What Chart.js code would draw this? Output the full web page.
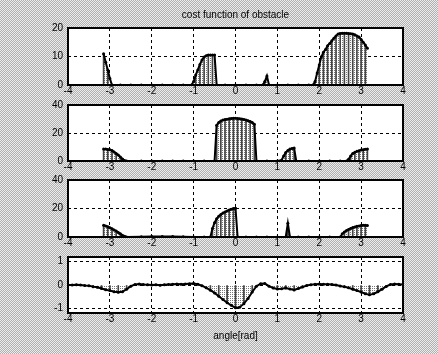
<!DOCTYPE html>
<html>
<head>
<meta charset="utf-8">
<script src="https://cdn.jsdelivr.net/npm/chart.js@4"></script>
<style>
body {
    margin: 0;
    width: 438px;
    height: 354px;
    overflow: hidden;
    background-color: #cacaca;
    background-image: repeating-conic-gradient(#b0b0b0 0 25%, #ececec 0 50%);
    background-size: 2px 2px;
}
canvas { position: absolute; left: 0; top: 0; }
</style>
</head>
<body>
<canvas id="p1" width="438" height="354"></canvas>
<canvas id="p2" width="438" height="354"></canvas>
<canvas id="p3" width="438" height="354"></canvas>
<canvas id="p4" width="438" height="354"></canvas>
<script>
// valores
const angle1 = [-3.15,-3.1,-3.05,-3.0,-2.95,-2.75,-2.5,-2.25,-2,-1.75,-1.5,-1.25,-1.05,
    -1.0,-0.95,-0.9,-0.85,-0.8,-0.75,-0.7,-0.65,-0.6,-0.55,-0.5,-0.45,
    -0.25,0,0.25,0.5,0.65,0.7,0.75,0.8,1.0,1.25,1.5,1.75,
    1.85,1.9,1.95,2.0,2.05,2.1,2.15,2.2,2.25,2.3,2.35,2.4,2.45,2.5,2.55,2.6,2.65,2.7,2.75,2.8,2.85,2.9,2.95,3.0,3.05,3.1,3.15];
const cost1 = [11,8,5.3,2.3,0,0,0,0,0,0,0,0,0,
    1.2,3.5,5.3,7.2,8.8,9.8,10.3,10.5,10.5,10.5,10.5,0,
    0,0,0,0,0,1.2,3.2,0,0,0,0,0,
    0,1.2,4.2,7,9.9,11.5,12.5,13.8,14.6,15.5,16.4,17.2,17.9,18.1,18.2,18.2,18.2,18.1,18.0,17.9,17.6,17.2,16.8,16.0,15.0,14.0,12.9];

const angle2 = [-3.15,-3.1,-3.05,-3.0,-2.95,-2.9,-2.85,-2.8,-2.75,-2.7,-2.65,-2.6,
    -2.25,-2,-1.75,-1.5,-1.25,-1,-0.75,
    -0.5,-0.45,-0.4,-0.35,-0.3,-0.25,-0.2,-0.15,-0.1,-0.05,0,0.05,0.1,0.15,0.2,0.25,0.3,0.35,0.4,0.45,0.5,
    0.75,1.0,1.1,1.15,1.2,1.25,1.3,1.35,1.4,1.45,
    1.75,2.0,2.25,2.5,2.65,2.7,2.75,2.8,2.85,2.9,2.95,3.0,3.05,3.1,3.15];
const cost2 = [8.5,8.5,8.3,8.0,7.5,6.5,5.3,4.2,2.8,1.5,0.3,0,
    0,0,0,0,0,0,0,
    0,25.5,27.5,28.6,29.2,29.6,29.9,30.2,30.4,30.5,30.5,30.4,30.2,30,29.7,29.3,28.8,28.2,27.5,26.2,0,
    0,0,0.5,3.5,6,7.5,8.5,9,9.2,0,
    0,0,0,0,0,1.2,3.5,5.3,6.2,6.9,7.4,7.8,8.1,8.4,8.5];

const angle3 = [-3.15,-3.1,-3.05,-3.0,-2.95,-2.9,-2.85,-2.8,-2.75,-2.7,-2.65,-2.6,
    -2.25,-2,-1.75,-1.5,-1.25,-1,-0.75,
    -0.6,-0.55,-0.5,-0.45,-0.4,-0.35,-0.3,-0.25,-0.2,-0.15,-0.1,-0.05,0,0.05,
    0.25,0.5,0.75,1.0,1.2,1.25,1.3,1.5,1.75,2.0,2.25,
    2.5,2.55,2.6,2.65,2.7,2.75,2.8,2.85,2.9,2.95,3.0,3.05,3.1,3.15];
const cost3 = [8.2,7.8,7.2,6.5,5.8,5,4.2,3.2,2.2,1.2,0.5,0,
    0.2,0.3,0.3,0.4,0.2,0,0,
    0,6,10,12.8,14.6,15.8,16.8,17.6,18.3,19,19.5,20,20.2,0,
    0,0,0,0,0,9.6,0,0,0,0,0,
    0,2.2,3.5,4.5,5.3,6,6.6,7.1,7.5,7.8,8.0,8.2,8.2,8.0];

const angle4 = [-4,-3.9,-3.8,-3.7,-3.6,-3.5,-3.4,-3.3,-3.2,-3.1,-3,-2.9,-2.8,-2.7,-2.6,-2.5,-2.4,-2.3,-2.2,-2.1,
    -2,-1.9,-1.8,-1.7,-1.6,-1.5,-1.4,-1.3,-1.2,-1.1,-1,-0.9,-0.8,-0.7,-0.6,-0.5,-0.4,-0.3,-0.2,-0.1,
    0,0.1,0.2,0.3,0.4,0.5,0.6,0.7,0.8,0.9,1,1.1,1.2,1.3,1.4,1.5,1.6,1.7,1.8,1.9,
    2,2.1,2.2,2.3,2.4,2.5,2.6,2.7,2.8,2.9,3,3.1,3.2,3.3,3.4,3.5,3.6,3.7,3.8,3.9,4];
const cost4 = [0,0,0.01,0,-0.02,-0.03,-0.07,-0.1,-0.15,-0.2,-0.24,-0.29,-0.31,-0.29,-0.18,-0.05,0.02,0.04,0.02,0.01,
    0,0.01,-0.01,0.01,0.02,0.03,0.04,0.03,0.04,0.05,0.06,0.03,-0.03,-0.12,-0.22,-0.34,-0.48,-0.62,-0.76,-0.87,
    -0.98,-0.95,-0.8,-0.58,-0.3,-0.05,0.05,0.06,-0.05,-0.13,-0.17,-0.16,-0.13,-0.17,-0.21,-0.15,-0.09,-0.02,0.01,0.03,
    0.04,0.03,0.03,0.02,0,-0.04,-0.08,-0.12,-0.18,-0.24,-0.3,-0.38,-0.42,-0.38,-0.29,-0.18,-0.06,0.02,0.04,0.03,0.02];

const yTicks1 = [0, 10, 20];
const yTicks2 = [0, 20, 40];
const yTicks3 = [0, 20, 40];
const yTicks4 = [-1, 0, 1];

const fonte = { family: "'Liberation Sans', Arial, sans-serif", size: 10, weight: 'normal' };

function meioTom() {
    const c = document.createElement('canvas');
    c.width = 2; c.height = 2;
    const g = c.getContext('2d');
    g.fillStyle = '#fff';
    g.fillRect(0, 0, 2, 2);
    g.fillStyle = '#777';
    g.fillRect(0, 0, 1, 1);
    return g.createPattern(c, 'repeat');
}

const caixa = {
    id: 'caixa',
    beforeDraw(chart) {
        const a = chart.chartArea, ctx = chart.ctx;
        ctx.save();
        ctx.fillStyle = '#fff';
        ctx.fillRect(a.left, a.top, a.width, a.height);
        ctx.restore();
    },
    afterDraw(chart) {
        const a = chart.chartArea, ctx = chart.ctx;
        ctx.save();
        ctx.strokeStyle = '#000';
        ctx.lineWidth = 2;
        ctx.strokeRect(a.left, a.top, a.width, a.height);
        ctx.restore();
    }
};

function painel(id, angulos, valores, yTicks, topo, base, titulo, eixoX) {
    const pontos = angulos.map((x, i) => ({ x: x, y: valores[i] }));
    const alturaX = eixoX ? 30 : 14;
    new Chart(document.getElementById(id), {
        type: 'line',
        data: {
            datasets: [
                {
                    type: 'line',
                    data: pontos,
                    borderColor: '#000',
                    borderWidth: 2,
                    pointRadius: 1.5,
                    pointBorderWidth: 0,
                    pointBackgroundColor: '#000',
                    backgroundColor: meioTom(),
                    fill: 'origin',
                    tension: 0,
                    order: 0
                },
                {
                    type: 'bar',
                    data: pontos,
                    backgroundColor: ctx => (ctx.dataIndex % 2 ? 'rgba(0,0,0,0)' : '#444'),
                    barThickness: 1,
                    order: 1
                }
            ]
        },
        options: {
            responsive: false,
            animation: false,
            layout: { padding: { left: 0, right: 35, top: titulo ? topo - 19 : topo, bottom: 354 - base - alturaX } },
            plugins: {
                legend: { display: false },
                tooltip: { enabled: false },
                filler: { drawTime: 'beforeDatasetsDraw' },
                title: {
                    display: !!titulo,
                    text: titulo || '',
                    fullSize: false,
                    color: '#000',
                    font: fonte,
                    padding: { top: 0, bottom: 7 }
                }
            },
            scales: {
                x: {
                    type: 'linear',
                    min: -4, max: 4,
                    offset: false,
                    ticks: { stepSize: 1, color: '#000', font: fonte, padding: 0, maxRotation: 0 },
                    grid: { color: '#000', lineWidth: 1, drawTicks: false, offset: false },
                    border: { display: false, dash: [3, 3] },
                    title: { display: !!eixoX, text: eixoX || '', color: '#000', font: fonte, padding: { top: 0, bottom: 1 } },
                    afterFit: s => { s.height = alturaX; }
                },
                y: {
                    min: yTicks[0] < 0 ? -1.2 : yTicks[0],
                    max: yTicks[0] < 0 ? 1.2 : yTicks[yTicks.length - 1],
                    afterBuildTicks: s => { s.ticks = yTicks.map(v => ({ value: v })); },
                    ticks: { color: '#000', font: fonte, padding: 5 },
                    grid: { color: '#000', lineWidth: 1, drawTicks: false },
                    border: { display: false, dash: [3, 3] },
                    afterFit: s => { s.width = 68; }
                }
            }
        },
        plugins: [caixa]
    });
}

painel('p1', angle1, cost1, yTicks1, 28, 85, 'cost function of obstacle', null);
painel('p2', angle2, cost2, yTicks2, 105, 161, null, null);
painel('p3', angle3, cost3, yTicks3, 180, 237, null, null);
painel('p4', angle4, cost4, yTicks4, 257, 313, null, 'angle[rad]');
</script>
</body>
</html>
